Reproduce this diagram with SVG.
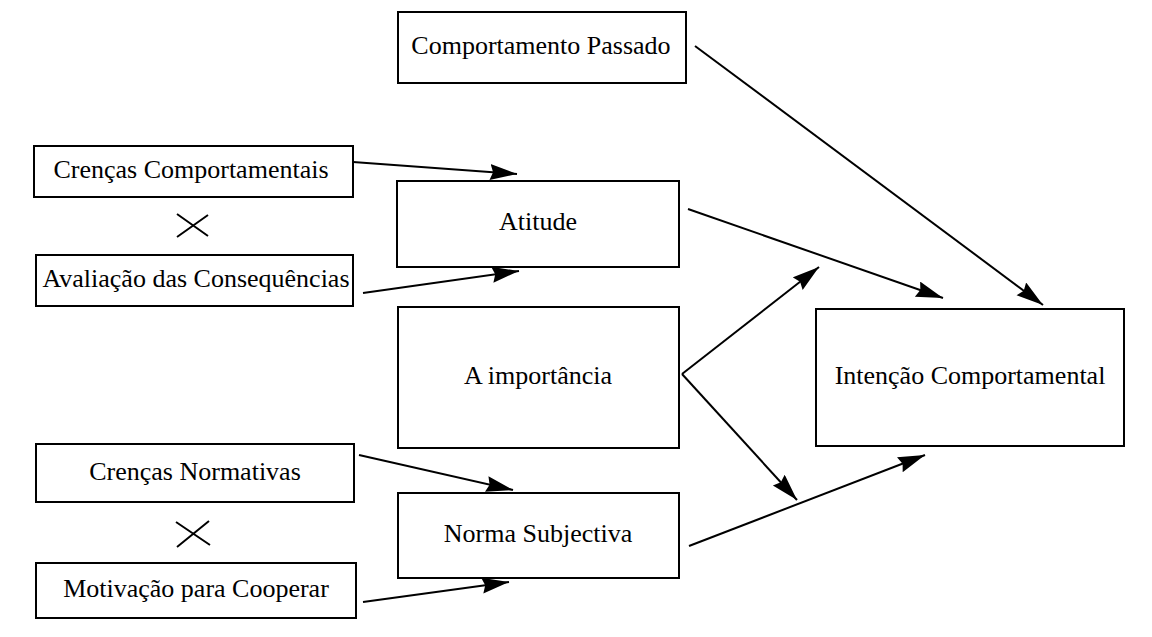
<svg xmlns="http://www.w3.org/2000/svg" width="1152" height="637" viewBox="0 0 1152 637">
<defs>
<style>
.box{fill:#fff;stroke:#000;stroke-width:2}
.lbl{font-family:"Liberation Serif","Times New Roman",serif;font-size:26px;fill:#000;text-anchor:middle}
.edge{stroke:#000;stroke-width:2;fill:none;marker-end:url(#ah)}
.x{stroke:#000;stroke-width:2;fill:none}
</style>
<marker id="ah" markerUnits="userSpaceOnUse" markerWidth="30" markerHeight="18" refX="27" refY="8" orient="auto" viewBox="0 0 30 18">
<path d="M0,0 L27,8 L0,16 L3,8 z" fill="#000"/>
</marker>
</defs>
<rect width="1152" height="637" fill="#fff"/>
<g id="comportamento-passado"><rect class="box" x="398" y="12" width="288" height="71"/><text class="lbl" x="541" y="54">Comportamento Passado</text></g>
<g id="crencas-comportamentais"><rect class="box" x="34" y="146" width="319" height="51"/><text class="lbl" x="191" y="178">Crenças Comportamentais</text></g>
<g id="avaliacao"><rect class="box" x="36" y="255" width="317" height="51"/><text class="lbl" x="196" y="287">Avaliação das Consequências</text></g>
<g id="atitude"><rect class="box" x="397" y="181" width="282" height="86"/><text class="lbl" x="538" y="230">Atitude</text></g>
<g id="importancia"><rect class="box" x="398" y="307" width="281" height="141"/><text class="lbl" x="538" y="384">A importância</text></g>
<g id="intencao"><rect class="box" x="816" y="309" width="308" height="137"/><text class="lbl" x="970" y="384">Intenção Comportamental</text></g>
<g id="crencas-normativas"><rect class="box" x="36" y="444" width="318" height="58"/><text class="lbl" x="195" y="480">Crenças Normativas</text></g>
<g id="norma-subjectiva"><rect class="box" x="398" y="493" width="281" height="85"/><text class="lbl" x="538" y="542">Norma Subjectiva</text></g>
<g id="motivacao"><rect class="box" x="36" y="563" width="320" height="55"/><text class="lbl" x="196" y="597">Motivação para Cooperar</text></g>
<g id="multiply-symbols">
<path class="x" d="M177,214 L208,236 M177,237 L208,215"/>
<path class="x" d="M176,522 L210,545 M177,547 L209,521"/>
</g>
<g id="connectors">
<line class="edge" x1="353" y1="162" x2="517" y2="174"/>
<line class="edge" x1="363" y1="293" x2="519" y2="271"/>
<line class="edge" x1="695" y1="46" x2="1043" y2="305"/>
<line class="edge" x1="688" y1="209" x2="943" y2="298"/>
<line class="edge" x1="682" y1="374" x2="819" y2="267"/>
<line class="edge" x1="682" y1="374" x2="797" y2="500"/>
<line class="edge" x1="359" y1="455" x2="513" y2="490"/>
<line class="edge" x1="363" y1="602" x2="509" y2="582"/>
<line class="edge" x1="689" y1="546" x2="925" y2="455"/>
</g>
</svg>
